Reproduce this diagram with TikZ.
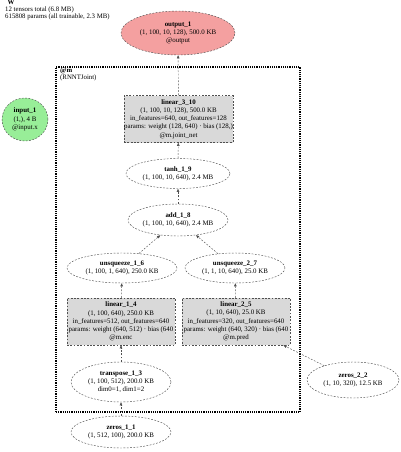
\documentclass[tikz,border=0pt]{standalone}
\usepackage{fontspec}
\setmainfont{Liberation Serif}
\usepackage{tikz}
\usetikzlibrary{shapes.geometric,arrows.meta,positioning}
\definecolor{outcol}{HTML}{F4A0A0}
\definecolor{incol}{HTML}{98EE98}
\definecolor{opcol}{HTML}{D9D9D9}
\definecolor{edgecol}{HTML}{505050}

\begin{document}
\begin{tikzpicture}[x=1pt, y=-1pt,
  every node/.style={font=\fontsize{6.9}{8.2}\selectfont, align=center, inner sep=0pt},
  tnode/.style={draw=edgecol, ellipse, dash pattern=on 1.8pt off 1.5pt, line width=0.45pt},
  fnode/.style={draw=edgecol, rectangle, fill=opcol, dash pattern=on 1.8pt off 1.5pt, line width=0.45pt, minimum width=108pt, minimum height=47pt},
  cluster/.style={draw, rectangle, dash pattern=on 1.2pt off 1pt, line width=2.4pt, minimum width=244pt, minimum height=345pt},
  flow/.style={-{Stealth[length=3.2pt,width=2.6pt,inset=0pt]}, draw=edgecol, dash pattern=on 1.8pt off 1.5pt, line width=0.45pt}
]
  \useasboundingbox (0,0) rectangle (400,452);

  % header
  \node[anchor=north west, align=left, font=\fontsize{6.8}{7}\selectfont] (hdr) at (5,0)
    {\hspace{2.5pt}\textbf{W}\\12 tensors total (6.8 MB)\\615808 params (all trainable, 2.3 MB)};

  % module box
  \node[cluster] (m) at (178,239.5) {};
  \node[anchor=north west, align=left, font=\fontsize{6.8}{7.2}\selectfont] (mlbl) at (60,67.5)
    {\textbf{@m}\\(RNNTJoint)};

  % outside
  \node[tnode, fill=outcol, minimum width=114pt, minimum height=44pt] (out1) at (178,33)
    {\textbf{output\_1}\\(1, 100, 10, 128), 500.0 KB\\@output};
  \node[tnode, fill=incol, minimum width=46pt, minimum height=43pt] (in1) at (25,119.5)
    {\textbf{input\_1}\\(1,), 4 B\\@input.x};
  \node[tnode, minimum width=100pt, minimum height=32pt] (z11) at (121,432)
    {\textbf{zeros\_1\_1}\\(1, 512, 100), 200.0 KB};
  \node[tnode, minimum width=92pt, minimum height=36pt] (z22) at (353,380)
    {\textbf{zeros\_2\_2}\\(1, 10, 320), 12.5 KB};

  % inside
  \node[fnode] (lin310) at (178.5,119)
    {\textbf{linear\_3\_10}\\(1, 100, 10, 128), 500.0 KB\\in\_features=640, out\_features=128\\params: weight (128, 640) · bias (128,)\\@m.joint\_net};
  \node[tnode, minimum width=104pt, minimum height=30pt] (tanh19) at (178,173.5)
    {\textbf{tanh\_1\_9}\\(1, 100, 10, 640), 2.4 MB};
  \node[tnode, minimum width=100pt, minimum height=32pt] (add18) at (178,220)
    {\textbf{add\_1\_8}\\(1, 100, 10, 640), 2.4 MB};
  \node[tnode, minimum width=110pt, minimum height=30pt] (unsq16) at (122,268)
    {\textbf{unsqueeze\_1\_6}\\(1, 100, 1, 640), 250.0 KB};
  \node[tnode, minimum width=100pt, minimum height=30pt] (unsq27) at (235,268)
    {\textbf{unsqueeze\_2\_7}\\(1, 1, 10, 640), 25.0 KB};
  \node[fnode] (lin14) at (121,321.5)
    {\textbf{linear\_1\_4}\\(1, 100, 640), 250.0 KB\\in\_features=512, out\_features=640\\params: weight (640, 512) · bias (640\\@m.enc};
  \node[fnode] (lin25) at (236,321.5)
    {\textbf{linear\_2\_5}\\(1, 10, 640), 25.0 KB\\in\_features=320, out\_features=640\\params: weight (640, 320) · bias (640\\@m.pred};
  \node[tnode, minimum width=100pt, minimum height=40pt] (tr13) at (121,382)
    {\textbf{transpose\_1\_3}\\(1, 100, 512), 200.0 KB\\dim0=1, dim1=2};

  % edges
  \draw[flow] (z11) -- (tr13);
  \draw[flow] (tr13) -- (lin14);
  \draw[flow] (z22) -- (lin25);
  \draw[flow] (lin14) -- (unsq16);
  \draw[flow] (lin25) -- (unsq27);
  \draw[flow] (unsq16) -- (add18);
  \draw[flow] (unsq27) -- (add18);
  \draw[flow] (add18) -- (tanh19);
  \draw[flow] (tanh19) -- (lin310);
  \draw[flow] (lin310) -- (out1);
\end{tikzpicture}
\end{document}
